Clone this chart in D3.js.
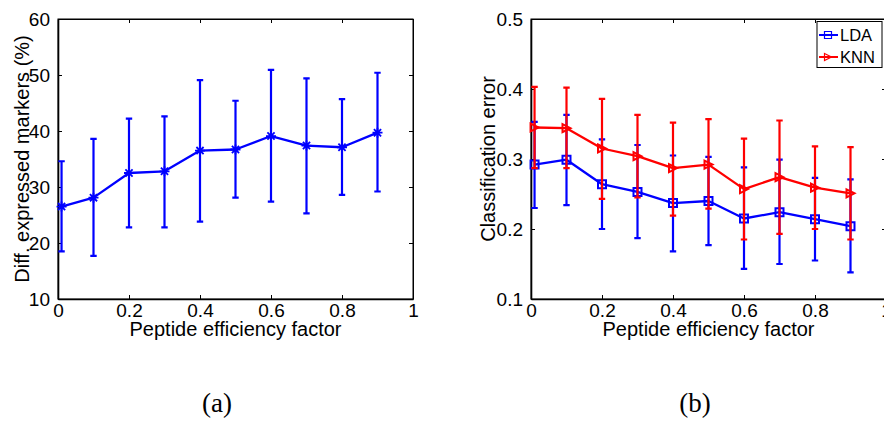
<!DOCTYPE html>
<html>
<head>
<meta charset="utf-8">
<script src="https://cdn.jsdelivr.net/npm/d3@7"></script>
<style>
  html, body { margin: 0; padding: 0; background: #fff; }
  svg { display: block; }
  text { font-family: "Liberation Sans", Arial, Helvetica, sans-serif; }
</style>
</head>
<body>
<svg id="chart" width="884" height="421"></svg>
<script>
// ---------- data ----------
const xVals = [0.01, 0.1, 0.2, 0.3, 0.4, 0.5, 0.6, 0.7, 0.8, 0.9];

// panel (a)
const diffMean  = [26.5, 28.1, 32.5, 32.8, 36.5, 36.7, 39.1, 37.4, 37.1, 39.7];
const diffUpper = [34.6, 38.6, 42.2, 42.6, 49.1, 45.4, 50.9, 49.4, 45.7, 50.4];
const diffLower = [18.5, 17.7, 22.8, 22.8, 23.8, 28.1, 27.4, 25.3, 28.6, 29.2];

// panel (b)
const ldaMean  = [0.292, 0.299, 0.264, 0.253, 0.237, 0.240, 0.215, 0.224, 0.214, 0.204];
const ldaUpper = [0.353, 0.363, 0.328, 0.320, 0.305, 0.303, 0.288, 0.299, 0.273, 0.271];
const ldaLower = [0.230, 0.234, 0.200, 0.187, 0.168, 0.177, 0.143, 0.150, 0.155, 0.138];
const knnMean  = [0.345, 0.344, 0.315, 0.304, 0.287, 0.292, 0.257, 0.274, 0.259, 0.251];
const knnUpper = [0.403, 0.402, 0.386, 0.363, 0.352, 0.357, 0.329, 0.355, 0.318, 0.317];
const knnLower = [0.287, 0.287, 0.243, 0.245, 0.219, 0.229, 0.185, 0.193, 0.200, 0.185];

const xTicks = [0, 0.2, 0.4, 0.6, 0.8, 1];
const yTicksA = [10, 20, 30, 40, 50, 60];
const yTicksB = [0.1, 0.2, 0.3, 0.4, 0.5];
const legendLabels = ["LDA", "KNN"];

// ---------- drawing ----------
const svg = d3.select("#chart");
svg.append("rect").attr("width", 884).attr("height", 421).attr("fill", "#fff");

const BLUE = "#0000ff", RED = "#ff0000";
const tickFont = 19, titleFont = 20;

function panel(opts) {
  const x = d3.scaleLinear().domain([0, 1]).range(opts.xr);
  const y = d3.scaleLinear().domain(opts.yd).range([299, 19]);
  const g = svg.append("g");

  // box
  g.append("rect")
    .attr("x", x(0)).attr("y", y(opts.yd[1]))
    .attr("width", x(1) - x(0)).attr("height", y(opts.yd[0]) - y(opts.yd[1]))
    .attr("fill", "none").attr("stroke", "#000").attr("stroke-width", 1);

  const fmt = opts.fmt;
  const ax = [
    g.append("g").attr("class", "xb").attr("transform", `translate(0,${y(opts.yd[0])})`)
      .call(d3.axisBottom(x).tickValues(xTicks).tickSizeInner(-4).tickSizeOuter(0).tickPadding(7).tickFormat(d3.format("~g"))),
    g.append("g").attr("transform", `translate(0,${y(opts.yd[1])})`)
      .call(d3.axisTop(x).tickValues(xTicks).tickSizeInner(-4).tickSizeOuter(0).tickFormat("")),
    g.append("g").attr("class", "yl").attr("transform", `translate(${x(0)},0)`)
      .call(d3.axisLeft(y).tickValues(opts.yTicks).tickSizeInner(-4).tickSizeOuter(0).tickPadding(8).tickFormat(fmt)),
    g.append("g").attr("transform", `translate(${x(1)},0)`)
      .call(d3.axisRight(y).tickValues(opts.yTicks).tickSizeInner(-4).tickSizeOuter(0).tickFormat(""))
  ];
  ax.forEach((a, i) => {
    a.select(".domain").attr("stroke", "#000").attr("stroke-width", (i === 0 || i === 2) ? 1.6 : 1);
    a.selectAll("line").attr("stroke", "#000").attr("stroke-width", 1);
    a.selectAll("text").attr("font-size", tickFont).attr("fill", "#000")
      .style("font-family", '"Liberation Sans", Arial, sans-serif');
  });
  ax[0].selectAll("text").attr("dy", "0.6em");

  // titles
  g.append("text").attr("x", (x(0) + x(1)) / 2).attr("y", 336)
    .attr("text-anchor", "middle").attr("font-size", titleFont).text("Peptide efficiency factor");
  g.append("text").attr("transform", `translate(${opts.ylabX},${(19 + 299) / 2}) rotate(-90)`)
    .attr("text-anchor", "middle").attr("font-size", titleFont).attr("dy", "0.35em").text(opts.ylab);

  // caption
  svg.append("text").attr("x", opts.capX).attr("y", 412)
    .attr("text-anchor", "middle").attr("font-size", 27)
    .style("font-family", '"Liberation Serif", "DejaVu Serif", serif').text(opts.caption);

  opts.series.forEach(s => {
    const sg = g.append("g");
    const data = xVals.map((v, i) => ({ x: v, m: s.mean[i], u: s.upper[i], l: s.lower[i] }));
    // error bars
    sg.selectAll(".eb").data(data).enter().append("path")
      .attr("d", d => `M${x(d.x)},${y(d.u)}V${y(d.l)}M${x(d.x) - 3.2},${y(d.u)}H${x(d.x) + 3.2}M${x(d.x) - 3.2},${y(d.l)}H${x(d.x) + 3.2}`)
      .attr("stroke", s.color).attr("stroke-width", 2.2).attr("fill", "none");
    // line
    sg.append("path").datum(data)
      .attr("d", d3.line().x(d => x(d.x)).y(d => y(d.m)))
      .attr("stroke", s.color).attr("stroke-width", 2.3).attr("fill", "none")
      .attr("stroke-linejoin", "round");
    // markers
    sg.selectAll(".mk").data(data).enter().append("path")
      .attr("transform", d => `translate(${x(d.x)},${y(d.m)})`)
      .attr("d", s.marker)
      .attr("stroke", s.color).attr("stroke-width", s.mw).attr("fill", "none");
  });
  return { x, y, g };
}

const asterisk = "M-5,0H5M0,-5V5M-3.6,-3.6L3.6,3.6M-3.6,3.6L3.6,-3.6";
const square = "M-4,-4H4V4H-4Z";
const triRight = "M-4,-4L4,0L-4,4Z";

panel({
  xr: [58, 413], yd: [10, 60], yTicks: yTicksA, fmt: d3.format("d"),
  ylab: "Diff. expressed markers (%)", ylabX: 22, caption: "(a)", capX: 217,
  series: [{ mean: diffMean, upper: diffUpper, lower: diffLower, color: BLUE, marker: asterisk, mw: 1.8 }]
});

panel({
  xr: [531, 886], yd: [0.1, 0.5], yTicks: yTicksB, fmt: d3.format(".1f"),
  ylab: "Classification error", ylabX: 488, caption: "(b)", capX: 695,
  series: [
    { mean: ldaMean, upper: ldaUpper, lower: ldaLower, color: BLUE, marker: square, mw: 2 },
    { mean: knnMean, upper: knnUpper, lower: knnLower, color: RED, marker: triRight, mw: 2 }
  ]
});

// legend
const lg = svg.append("g");
lg.append("rect").attr("x", 817).attr("y", 21.5).attr("width", 65).attr("height", 46)
  .attr("fill", "#fff").attr("stroke", "#000").attr("stroke-width", 1);
const legendItems = [
  { label: legendLabels[0], color: BLUE, marker: "M-3.5,-3.5H3.5V3.5H-3.5Z", y: 35 },
  { label: legendLabels[1], color: RED, marker: "M-3.5,-3.5L3.5,0L-3.5,3.5Z", y: 57 }
];
legendItems.forEach(it => {
  lg.append("line").attr("x1", 819).attr("x2", 838).attr("y1", it.y).attr("y2", it.y)
    .attr("stroke", it.color).attr("stroke-width", 2);
  lg.append("path").attr("transform", `translate(828,${it.y})`).attr("d", it.marker)
    .attr("stroke", it.color).attr("stroke-width", 1.2).attr("fill", "none");
  lg.append("text").attr("x", 840).attr("y", it.y + 6).attr("font-size", 16.5).text(it.label);
});
</script>
</body>
</html>
